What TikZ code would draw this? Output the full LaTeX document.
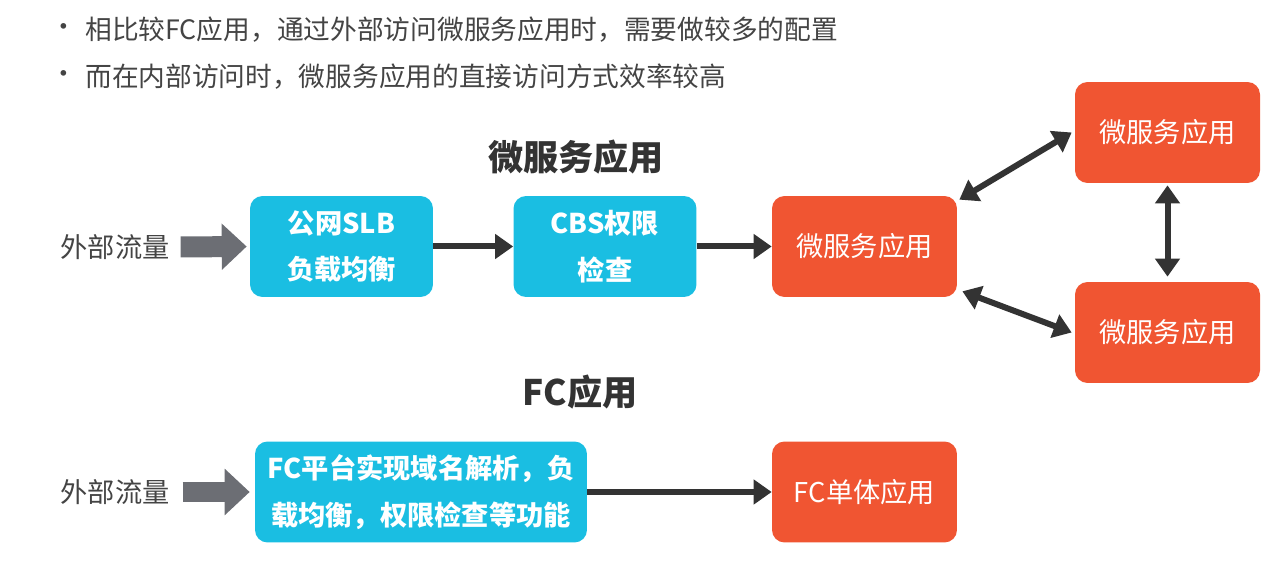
\documentclass[tikz,border=0pt]{standalone}
\usepackage{fontspec}
\setmainfont{Noto Sans CJK SC}
\usepackage{xcolor}
\usetikzlibrary{arrows.meta}
\definecolor{boxblue}{RGB}{26,190,226}
\definecolor{boxorange}{RGB}{240,85,50}
\definecolor{flowgray}{RGB}{108,110,116}
\definecolor{linedark}{RGB}{51,51,51}
\definecolor{textgray}{RGB}{68,68,68}
\tikzset{
	bluebox/.style = {fill=boxblue, text=white, rounded corners=0.25cm, align=center, minimum width=3.66cm, minimum height=2.02cm, font=\bfseries\fontsize{15.5}{26.5}\selectfont},
	orangebox/.style = {fill=boxorange, text=white, rounded corners=0.25cm, minimum width=3.7cm, minimum height=2.02cm, font=\fontsize{15.5}{18}\selectfont},
	flowlabel/.style = {text=textgray, font=\fontsize{15.5}{18}\selectfont},
	heading/.style = {text=linedark, font=\bfseries\fontsize{20}{24}\selectfont},
	bullettext/.style = {text=textgray, anchor=west, inner sep=0pt, font=\fontsize{15.2}{20}\selectfont},
	fatarrow/.style = {draw=flowgray, line width=0.42cm, -{Triangle[length=0.5cm,width=0.9cm]}},
	link/.style = {draw=linedark, line width=0.12cm, -{Triangle[length=0.36cm,width=0.48cm]}},
	duolink/.style = {draw=linedark, line width=0.12cm, {Triangle[length=0.36cm,width=0.48cm]}-{Triangle[length=0.36cm,width=0.48cm]}}
}

\begin{document}
\begin{tikzpicture}[x=0.02cm,y=-0.02cm]
	\useasboundingbox (0,0) rectangle (1280,573);

	\node[bullettext] (dot1) at (50,30) {•};
	\node[bullettext] (line1) at (85,30) {相比较FC应用，通过外部访问微服务应用时，需要做较多的配置};
	\node[bullettext] (dot2) at (50,77) {•};
	\node[bullettext] (line2) at (85,77) {而在内部访问时，微服务应用的直接访问方式效率较高};

	\node[heading] (mstitle) at (576,157) {微服务应用};
	\node[flowlabel] (ext1) at (115,247) {外部流量};
	\node[bluebox] (slb) at (341.5,246.5) {公网SLB\\负载均衡};
	\node[bluebox] (cbs) at (605,246.5) {CBS权限\\检查};
	\node[orangebox] (msmain) at (864.5,246.5) {微服务应用};
	\node[orangebox] (mstop) at (1167.5,132.5) {微服务应用};
	\node[orangebox] (msbot) at (1167.5,332.5) {微服务应用};
	\draw[fatarrow, shorten <=0.1cm, shorten >=0.06cm] (ext1.east) -- (slb.west);
	\draw[link] (slb.east) -- (cbs.west);
	\draw[link] (cbs.east) -- (msmain.west);
	\draw[duolink] ([shift={(2,4)}]msmain.north east) -- ([xshift=-0.06cm]mstop.west);
	\draw[duolink] ([shift={(5,-6)}]msmain.south east) -- ([xshift=-0.06cm]msbot.west);
	\draw[duolink] ([yshift=-0.04cm]mstop.south) -- ([yshift=0.1cm]msbot.north);

	\node[heading] (fctitle) at (580,392) {FC应用};
	\node[flowlabel] (ext2) at (115,492) {外部流量};
	\node[bluebox, minimum width=6.64cm] (fcgate) at (421,492) {FC平台实现域名解析，负\\载均衡，权限检查等功能};
	\node[orangebox] (fcapp) at (864.5,492) {FC单体应用};
	\draw[fatarrow, shorten <=0.14cm, shorten >=0.1cm] (ext2.east) -- (fcgate.west);
	\draw[link] (fcgate.east) -- (fcapp.west);
\end{tikzpicture}
\end{document}
